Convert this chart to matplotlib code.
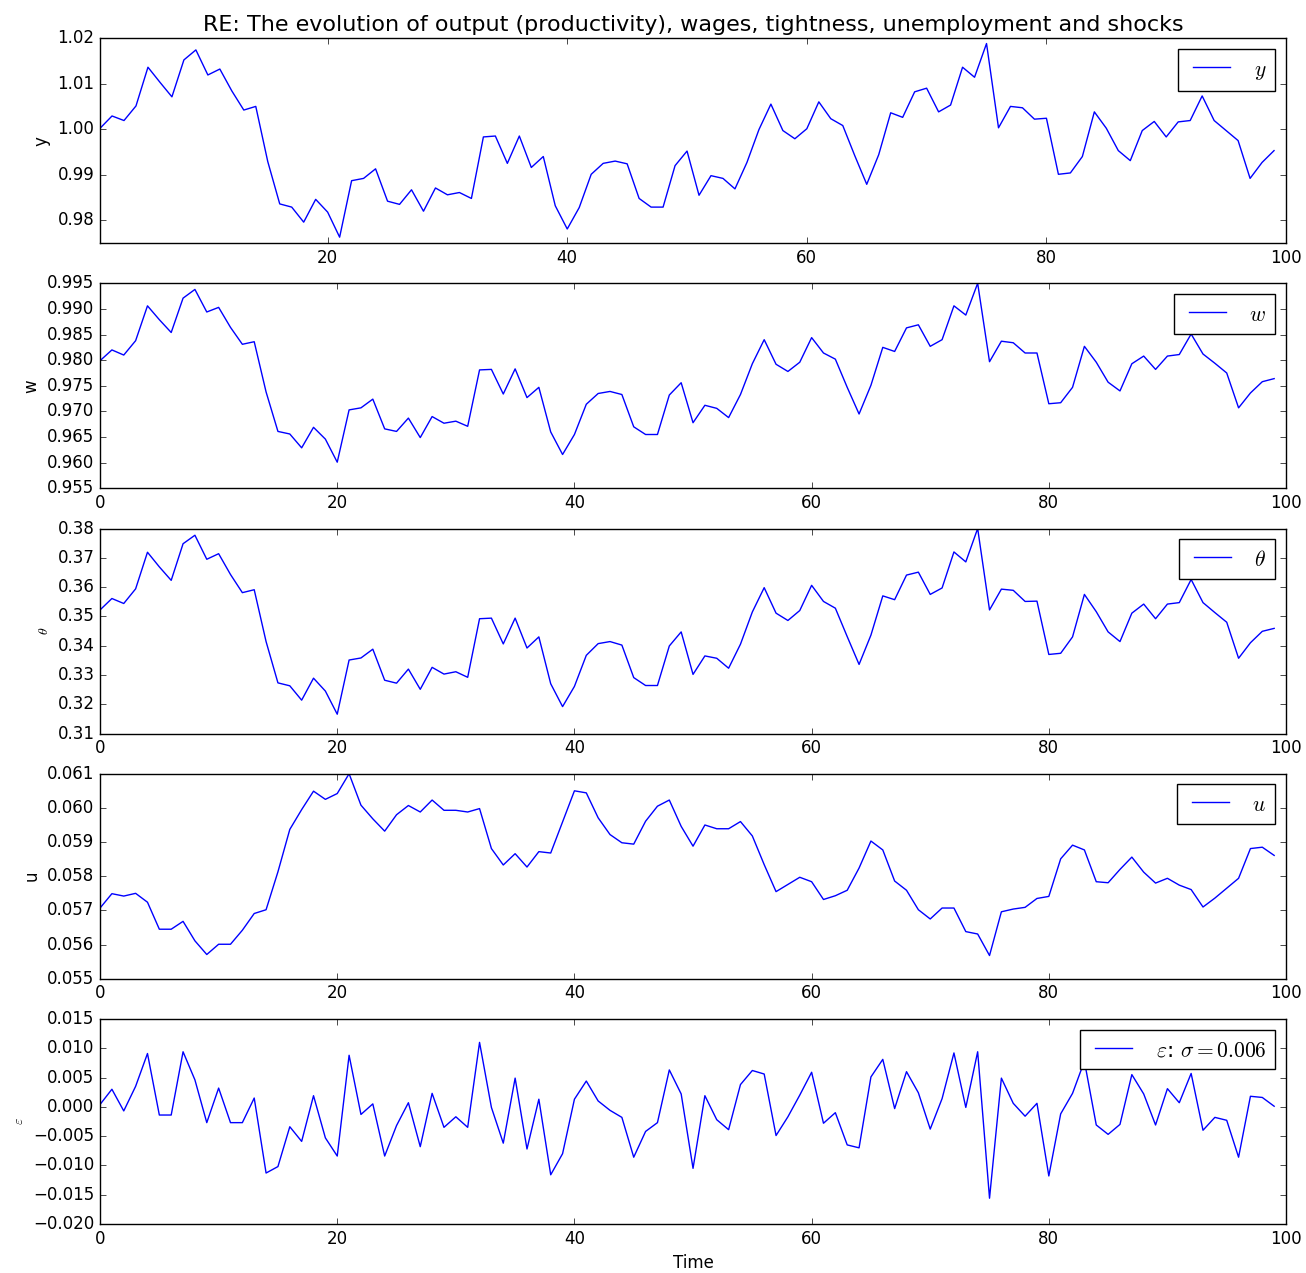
import numpy as np
import matplotlib
matplotlib.use('Agg')
import matplotlib.pyplot as plt
from matplotlib.ticker import MultipleLocator

plt.style.use('classic')
plt.rcParams['legend.fontsize'] = 15.5
plt.rcParams['legend.handlelength'] = 2.3
plt.rcParams['legend.handleheight'] = 1.1
plt.rcParams['legend.borderpad'] = 0.42

# output (productivity), plotted from t=1
y = [1.0002, 1.0029, 1.0019, 1.0051, 1.0136, 1.0103, 1.0071, 1.0152, 1.0174, 1.0119,
     1.0132, 1.0084, 1.0042, 1.0050, 0.9929, 0.9836, 0.9829, 0.9796, 0.9846, 0.9818,
     0.9763, 0.9887, 0.9892, 0.9913, 0.9842, 0.9835, 0.9867, 0.9820, 0.9871, 0.9856,
     0.9861, 0.9848, 0.9983, 0.9985, 0.9925, 0.9985, 0.9916, 0.9940, 0.9832, 0.9781,
     0.9828, 0.9901, 0.9925, 0.9930, 0.9924, 0.9848, 0.9829, 0.9829, 0.9920, 0.9952,
     0.9855, 0.9898, 0.9892, 0.9869, 0.9927, 0.9999, 1.0055, 0.9997, 0.9979, 1.0001,
     1.0060, 1.0023, 1.0008, 0.9942, 0.9879, 0.9944, 1.0036, 1.0026, 1.0082, 1.0090,
     1.0038, 1.0053, 1.0136, 1.0114, 1.0188, 1.0003, 1.0050, 1.0047, 1.0022, 1.0024,
     0.9901, 0.9904, 0.9940, 1.0038, 1.0002, 0.9953, 0.9931, 0.9997, 1.0017, 0.9983,
     1.0016, 1.0019, 1.0073, 1.0019, 0.9997, 0.9975, 0.9892, 0.9927, 0.9953]

# wages
w = [0.9799, 0.9820, 0.9810, 0.9838, 0.9906, 0.9879, 0.9854, 0.9921, 0.9938, 0.9894,
     0.9903, 0.9864, 0.9831, 0.9836, 0.9738, 0.9661, 0.9656, 0.9629, 0.9669, 0.9646,
     0.9601, 0.9703, 0.9707, 0.9724, 0.9666, 0.9661, 0.9687, 0.9649, 0.9690, 0.9677,
     0.9681, 0.9671, 0.9781, 0.9782, 0.9734, 0.9783, 0.9727, 0.9747, 0.9660, 0.9616,
     0.9655, 0.9714, 0.9735, 0.9739, 0.9733, 0.9670, 0.9655, 0.9655, 0.9732, 0.9756,
     0.9678, 0.9712, 0.9706, 0.9688, 0.9733, 0.9793, 0.9840, 0.9792, 0.9778, 0.9796,
     0.9844, 0.9814, 0.9802, 0.9747, 0.9695, 0.9751, 0.9825, 0.9817, 0.9863, 0.9869,
     0.9827, 0.9840, 0.9906, 0.9888, 0.9950, 0.9797, 0.9837, 0.9834, 0.9814, 0.9814,
     0.9715, 0.9717, 0.9747, 0.9827, 0.9796, 0.9757, 0.9740, 0.9793, 0.9808, 0.9782,
     0.9808, 0.9811, 0.9851, 0.9812, 0.9794, 0.9775, 0.9707, 0.9736, 0.9758, 0.9764]

# tightness
theta = [0.3522, 0.3561, 0.3544, 0.3594, 0.3719, 0.3669, 0.3623, 0.3748, 0.3777, 0.3695,
         0.3714, 0.3643, 0.3581, 0.3591, 0.3414, 0.3273, 0.3263, 0.3214, 0.3289, 0.3245,
         0.3166, 0.3351, 0.3358, 0.3388, 0.3282, 0.3272, 0.3320, 0.3251, 0.3326, 0.3303,
         0.3311, 0.3292, 0.3492, 0.3494, 0.3406, 0.3494, 0.3392, 0.3430, 0.3270, 0.3192,
         0.3261, 0.3367, 0.3407, 0.3414, 0.3402, 0.3291, 0.3264, 0.3264, 0.3399, 0.3447,
         0.3302, 0.3365, 0.3357, 0.3323, 0.3405, 0.3515, 0.3598, 0.3511, 0.3486, 0.3520,
         0.3606, 0.3551, 0.3528, 0.3431, 0.3336, 0.3436, 0.3570, 0.3557, 0.3641, 0.3651,
         0.3575, 0.3597, 0.3720, 0.3686, 0.3800, 0.3522, 0.3593, 0.3589, 0.3551, 0.3552,
         0.3370, 0.3374, 0.3430, 0.3575, 0.3516, 0.3447, 0.3414, 0.3511, 0.3542, 0.3492,
         0.3542, 0.3547, 0.3626, 0.3547, 0.3513, 0.3480, 0.3357, 0.3410, 0.3449, 0.3459]

# unemployment
u = [0.05707, 0.05749, 0.05742, 0.05750, 0.05724, 0.05645, 0.05645, 0.05668, 0.05611, 0.05571,
     0.05601, 0.05601, 0.05642, 0.05691, 0.05702, 0.05813, 0.05937, 0.05995, 0.06049, 0.06025,
     0.06042, 0.06100, 0.06008, 0.05968, 0.05932, 0.05980, 0.06007, 0.05988, 0.06023, 0.05993,
     0.05993, 0.05988, 0.05998, 0.05881, 0.05833, 0.05866, 0.05827, 0.05872, 0.05868, 0.05959,
     0.06050, 0.06044, 0.05971, 0.05922, 0.05898, 0.05894, 0.05961, 0.06005, 0.06023, 0.05946,
     0.05888, 0.05950, 0.05939, 0.05939, 0.05960, 0.05918, 0.05834, 0.05755, 0.05776, 0.05797,
     0.05784, 0.05732, 0.05743, 0.05759, 0.05824, 0.05903, 0.05877, 0.05786, 0.05759, 0.05702,
     0.05675, 0.05707, 0.05707, 0.05638, 0.05631, 0.05568, 0.05696, 0.05704, 0.05709, 0.05735,
     0.05741, 0.05851, 0.05891, 0.05877, 0.05784, 0.05781, 0.05820, 0.05856, 0.05812, 0.05780,
     0.05794, 0.05774, 0.05761, 0.05710, 0.05736, 0.05765, 0.05794, 0.05881, 0.05885, 0.05861]

# shocks
eps = [0.0004, 0.0030, -0.0007, 0.0035, 0.0091, -0.0014, -0.0014, 0.0094, 0.0046, -0.0027,
       0.0032, -0.0027, -0.0027, 0.0015, -0.0113, -0.0102, -0.0034, -0.0059, 0.0019, -0.0053,
       -0.0084, 0.0088, -0.0013, 0.0005, -0.0084, -0.0032, 0.0007, -0.0068, 0.0023, -0.0035,
       -0.0017, -0.0035, 0.0110, -0.0001, -0.0062, 0.0049, -0.0072, 0.0013, -0.0116, -0.0080,
       0.0013, 0.0044, 0.0010, -0.0006, -0.0018, -0.0086, -0.0042, -0.0027, 0.0063, 0.0022,
       -0.0105, 0.0019, -0.0022, -0.0039, 0.0038, 0.0062, 0.0056, -0.0049, -0.0017, 0.0020,
       0.0059, -0.0028, -0.0010, -0.0065, -0.0070, 0.0051, 0.0081, -0.0003, 0.0060, 0.0024,
       -0.0038, 0.0014, 0.0092, -0.0001, 0.0094, -0.0156, 0.0049, 0.0006, -0.0016, 0.0006,
       -0.0118, -0.0012, 0.0023, 0.0078, -0.0031, -0.0047, -0.0030, 0.0055, 0.0022, -0.0031,
       0.0031, 0.0007, 0.0057, -0.0040, -0.0018, -0.0023, -0.0086, 0.0018, 0.0016, 0.0001]

sigma = 0.006
t = np.arange(len(w))
t_y = np.arange(1, len(y) + 1)

fig, axes = plt.subplots(5, 1, figsize=(13.06, 12.73), dpi=100)
fig.subplots_adjust(left=0.0766, right=0.9847, top=0.9701, bottom=0.0385, hspace=0.196)

ax = axes[0]
ax.plot(t_y, y, 'b-', label='$y$')
ax.set_xlim(1, 100)
ax.set_ylim(0.975, 1.02)
ax.yaxis.set_major_locator(MultipleLocator(0.01))
ax.ticklabel_format(axis='y', useOffset=False)
ax.set_ylabel('y')
ax.set_title('RE: The evolution of output (productivity), wages, tightness, unemployment and shocks',
             fontsize=16)
ax.legend()

ax = axes[1]
ax.plot(t, w, 'b-', label='$w$')
ax.set_xlim(0, 100)
ax.set_ylim(0.955, 0.995)
ax.ticklabel_format(axis='y', useOffset=False)
ax.set_ylabel('w')
ax.legend()

ax = axes[2]
ax.plot(t, theta, 'b-', label=r'$\theta$')
ax.set_xlim(0, 100)
ax.set_ylim(0.31, 0.38)
ax.set_ylabel(r'$\theta$', fontsize=10)
ax.legend()

ax = axes[3]
ax.plot(t, u, 'b-', label='$u$')
ax.set_xlim(0, 100)
ax.set_ylim(0.055, 0.061)
ax.ticklabel_format(axis='y', useOffset=False)
ax.set_ylabel('u')
ax.legend()

ax = axes[4]
ax.plot(t, eps, 'b-', label=r'$\varepsilon$: $\sigma =$' + '$%.3f$' % sigma)
ax.set_xlim(0, 100)
ax.set_ylim(-0.02, 0.015)
ax.set_ylabel(r'$\varepsilon$', fontsize=10)
ax.set_xlabel('Time')
ax.legend()

fig.savefig('out.png', dpi=100)
